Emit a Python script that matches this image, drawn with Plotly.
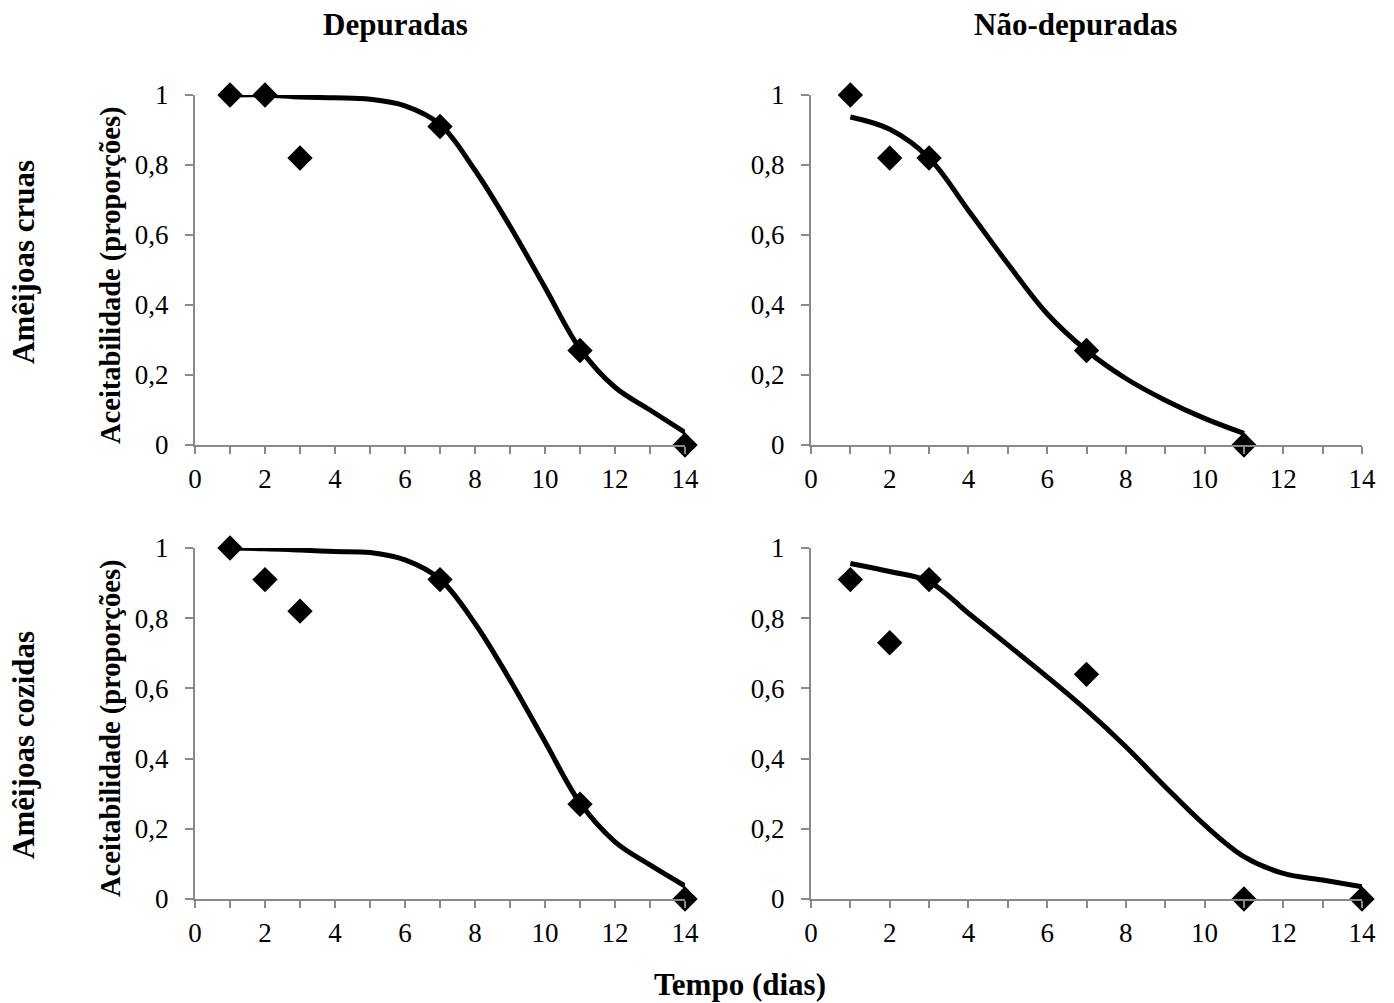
import plotly.graph_objects as go

# ---------------- data ----------------
dias_14 = [1, 2, 3, 7, 11, 14]
dias_11 = [1, 2, 3, 7, 11]

dep_cruas = [1.0, 1.0, 0.82, 0.91, 0.27, 0.0]
nd_cruas = [1.0, 0.82, 0.82, 0.27, 0.0]
dep_cozidas = [1.0, 0.91, 0.82, 0.91, 0.27, 0.0]
nd_cozidas = [0.91, 0.73, 0.91, 0.64, 0.0, 0.0]

curva_x_14 = [1, 2, 3, 4, 5, 6, 7, 8, 9, 10, 11, 12, 13, 14]
curva_x_11 = [1, 2, 3, 4, 5, 6, 7, 8, 9, 10, 11]
curva_dep_cruas = [1.0, 1.0, 0.994, 0.992, 0.988, 0.969, 0.916, 0.785, 0.625, 0.45, 0.275, 0.165, 0.10, 0.036]
curva_nd_cruas = [0.937, 0.902, 0.82, 0.67, 0.518, 0.375, 0.27, 0.19, 0.128, 0.076, 0.033]
curva_dep_cozidas = [1.0, 0.998, 0.994, 0.99, 0.987, 0.966, 0.911, 0.785, 0.624, 0.448, 0.274, 0.163, 0.097, 0.037]
curva_nd_cozidas = [0.956, 0.933, 0.904, 0.814, 0.724, 0.633, 0.538, 0.434, 0.32, 0.211, 0.121, 0.073, 0.054, 0.035]

x_tickvals = [0, 2, 4, 6, 8, 10, 12, 14]
x_ticktext = ["0", "2", "4", "6", "8", "10", "12", "14"]
x_minor = [1, 3, 5, 7, 9, 11, 13]
y_tickvals = [0, 0.2, 0.4, 0.6, 0.8, 1]
y_ticktext = ["0", "0,2", "0,4", "0,6", "0,8", "1"]

col_titles = ["Depuradas", "Não-depuradas"]
row_titles = ["Amêijoas cruas", "Amêijoas cozidas"]
y_title = "Aceitabilidade (proporções)"
x_title = "Tempo (dias)"

# ---------------- layout geometry ----------------
W, H = 1394, 1003
col_px = [(195, 685), (811, 1362)]
row_px = [(95, 445), (548, 899)]

AX = "#898989"
TICKFONT = dict(family="Liberation Serif", size=27, color="black")
TITLEFONT = dict(family="Liberation Serif", size=31, color="black")
YTFONT = dict(family="Liberation Serif", size=28.5, color="black")

fig = go.Figure()

panels = [
    (0, 0, dias_14, dep_cruas, curva_x_14, curva_dep_cruas),
    (0, 1, dias_11, nd_cruas, curva_x_11, curva_nd_cruas),
    (1, 0, dias_14, dep_cozidas, curva_x_14, curva_dep_cozidas),
    (1, 1, dias_14, nd_cozidas, curva_x_14, curva_nd_cozidas),
]

layout_axes = {}
for i, (r, c, px, py, cx, cy) in enumerate(panels):
    n = i + 1
    xa = "x" if n == 1 else f"x{n}"
    ya = "y" if n == 1 else f"y{n}"
    fig.add_trace(go.Scatter(
        x=cx, y=cy, mode="lines", xaxis=xa, yaxis=ya,
        line=dict(color="black", width=5, shape="spline", smoothing=1.0),
        cliponaxis=False, showlegend=False, hoverinfo="skip"))
    fig.add_trace(go.Scatter(
        x=px, y=py, mode="markers", xaxis=xa, yaxis=ya,
        marker=dict(symbol="diamond", size=19.5, color="black", line=dict(width=0)),
        cliponaxis=False, showlegend=False))
    x0, x1 = col_px[c]
    y0, y1 = row_px[r]
    xkey = "xaxis" if n == 1 else f"xaxis{n}"
    ykey = "yaxis" if n == 1 else f"yaxis{n}"
    layout_axes[xkey] = dict(
        domain=[x0 / W, x1 / W], anchor=ya, range=[0, 14], automargin=False,
        showline=True, linecolor=AX, linewidth=2,
        ticks="outside", ticklen=7, tickwidth=2, tickcolor=AX,
        tickvals=x_tickvals, ticktext=x_ticktext,
        minor=dict(tickvals=x_minor, ticks="outside", ticklen=7, tickwidth=2, tickcolor=AX),
        showgrid=False, zeroline=False, tickfont=TICKFONT, ticklabelstandoff=2,
        fixedrange=True)
    layout_axes[ykey] = dict(
        domain=[1 - y1 / H, 1 - y0 / H], anchor=xa, range=[0, 1], automargin=False,
        showline=True, linecolor=AX, linewidth=2,
        ticks="outside", ticklen=8, tickwidth=2, tickcolor=AX,
        tickvals=y_tickvals, ticktext=y_ticktext,
        showgrid=False, zeroline=False, tickfont=TICKFONT, ticklabelstandoff=11,
        fixedrange=True)

annotations = []
col_centers = [395, 1075]
for c, t in enumerate(col_titles):
    annotations.append(dict(text=f"<b>{t}</b>", x=col_centers[c] / W, y=1 - 24 / H,
                            xref="paper", yref="paper", showarrow=False,
                            xanchor="center", yanchor="middle", font=TITLEFONT))
row_centers = [262, 745]
for r, t in enumerate(row_titles):
    annotations.append(dict(text=f"<b>{t}</b>", x=23 / W, y=1 - row_centers[r] / H,
                            xref="paper", yref="paper", showarrow=False, textangle=-90,
                            xanchor="center", yanchor="middle", font=TITLEFONT))
ytitle_centers = [275, 728]
for r in range(2):
    annotations.append(dict(text=f"<b>{y_title}</b>", x=111 / W, y=1 - ytitle_centers[r] / H,
                            xref="paper", yref="paper", showarrow=False, textangle=-90,
                            xanchor="center", yanchor="middle", font=YTFONT))
annotations.append(dict(text=f"<b>{x_title}</b>", x=740 / W, y=1 - 984 / H,
                        xref="paper", yref="paper", showarrow=False,
                        xanchor="center", yanchor="middle", font=TITLEFONT))

fig.update_layout(
    width=W, height=H,
    margin=dict(l=0, r=0, t=0, b=0, pad=0, autoexpand=False),
    paper_bgcolor="white", plot_bgcolor="white",
    annotations=annotations, showlegend=False,
    **layout_axes)

fig.write_html(
    "out.html",
    config={"displayModeBar": False},
    post_script="document.body.style.margin='0';document.body.style.overflow='hidden';"
                "document.documentElement.style.overflow='hidden';")
